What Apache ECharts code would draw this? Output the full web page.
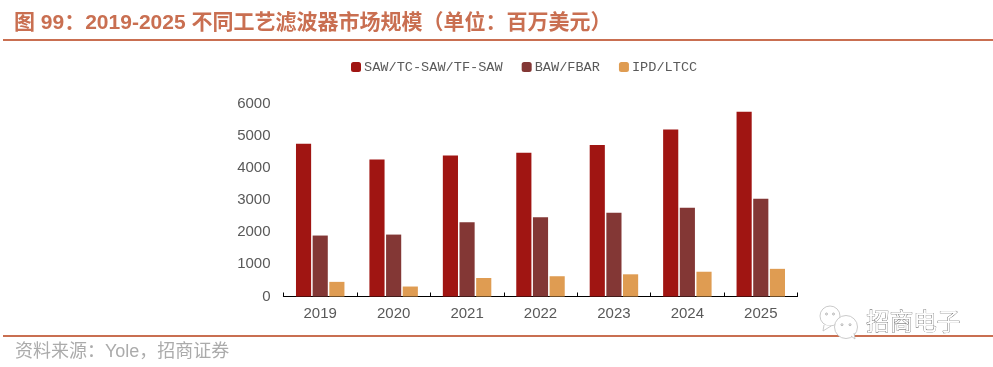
<!DOCTYPE html>
<html>
<head>
<meta charset="utf-8">
<style>html,body{margin:0;padding:0;background:#fff}#c{width:993px;height:367px}</style>
<script src="https://cdn.jsdelivr.net/npm/echarts@6/dist/echarts.min.js"></script>
</head>
<body>
<div id="c"></div>
<script>
var categories = ['2019','2020','2021','2022','2023','2024','2025'];
var sawValues = [4750,4260,4380,4470,4710,5190,5740];
var bawValues = [1895,1925,2310,2460,2600,2760,3040];
var ipdValues = [455,310,575,630,690,770,860];
var seriesNames = ['SAW/TC-SAW/TF-SAW','BAW/FBAR','IPD/LTCC'];
var colors = ['#A01512','#833735','#DF9C52'];
var titleText = '图 99\uFF1A2019-2025 不同工艺滤波器市场规模\uFF08单位\uFF1A百万美元\uFF09';
var sourceText = '资料来源\uFF1AYole\uFF0C招商证券';
var watermarkText = '招商电子';
var lineColor = '#C96F51';
var cjk = '"Liberation Sans","Noto Sans CJK SC",sans-serif';

var chart = echarts.init(document.getElementById('c'), null, {renderer:'canvas'});
function bar(name, data, color){
  return {name:name, type:'bar', data:data, barGap:'10%', barCategoryGap:'34%',
    itemStyle:{color:color}, emphasis:{disabled:true}, animation:false};
}
function bubble(cx, cy, r, tail){
  return {type:'group', silent:true, children:[
    {type:'circle', shape:{cx:cx, cy:cy, r:r}, style:{fill:'#fff', stroke:'#BDBDBD', lineWidth:0.8}},
    {type:'polyline', shape:{points:tail}, style:{fill:'#fff', stroke:'#BDBDBD', lineWidth:0.8}},
    {type:'circle', shape:{cx:cx-r*0.35, cy:cy-r*0.2, r:1}, style:{fill:'#fff', stroke:'#999', lineWidth:0.7}},
    {type:'circle', shape:{cx:cx+r*0.35, cy:cy-r*0.2, r:1}, style:{fill:'#fff', stroke:'#999', lineWidth:0.7}}
  ]};
}
chart.setOption({
  animation:false,
  backgroundColor:'#fff',
  textStyle:{fontFamily:cjk},
  legend:{
    top:55, left:346, itemWidth:10, itemHeight:10, itemGap:19,
    icon:'roundRect',
    data:seriesNames,
    textStyle:{fontFamily:'"Liberation Mono",monospace', fontSize:13.6, color:'#595959', padding:[0,0,0,-2]}
  },
  grid:{left:283.5, top:103.5, width:514, height:193, containLabel:false},
  xAxis:{
    type:'category', data:categories,
    axisLine:{lineStyle:{color:'#000', width:1.2}},
    axisTick:{show:true, inside:true, length:4, alignWithLabel:false, lineStyle:{color:'#000', width:1}},
    axisLabel:{color:'#595959', fontSize:15, margin:10, fontFamily:'"Liberation Sans",sans-serif'}
  },
  yAxis:{
    type:'value', min:0, max:6000, interval:1000,
    axisLine:{show:false}, axisTick:{show:false}, splitLine:{show:false},
    axisLabel:{color:'#595959', fontSize:15, margin:13, formatter:function(v){return String(v);}, fontFamily:'"Liberation Sans",sans-serif'}
  },
  series:[
    bar(seriesNames[0], sawValues, colors[0]),
    bar(seriesNames[1], bawValues, colors[1]),
    bar(seriesNames[2], ipdValues, colors[2])
  ],
  graphic:[
    {type:'text', left:14, top:13, silent:true, style:{text:titleText, fontSize:21, fontWeight:'bold', fill:lineColor, fontFamily:cjk}},
    {type:'rect', silent:true, shape:{x:3, y:39, width:990, height:2}, style:{fill:lineColor}},
    {type:'rect', silent:true, shape:{x:3, y:335, width:990, height:2}, style:{fill:lineColor}},
    {type:'text', left:15, top:343, silent:true, style:{text:sourceText, fontSize:18, fill:'#ABABAB', fontFamily:cjk}},
    bubble(830, 316, 10, [[824,325],[823,331],[831,326]]),
    bubble(846, 327, 11.5, [[851,336],[855,339],[854,333]]),
    {type:'text', left:866, top:311, silent:true, style:{text:watermarkText, fontSize:23.5, fill:'#fff', stroke:'#555', lineWidth:0.7, fontFamily:cjk}}
  ]
});
</script>
</body>
</html>
